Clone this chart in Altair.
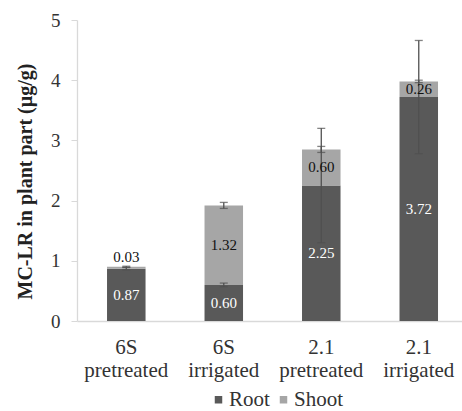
import altair as alt
import pandas as pd

categories = ["6S pretreated", "6S irrigated", "2.1 pretreated", "2.1 irrigated"]
root = [0.87, 0.60, 2.25, 3.72]
shoot = [0.03, 1.32, 0.60, 0.26]
root_err = [0.02, 0.03, 0.95, 0.94]
total_err = [0.01, 0.05, 0.05, 0.02]
parts = ["Root", "Shoot"]
colors = ["#595959", "#a6a6a6"]

rows = []
for c, r, s in zip(categories, root, shoot):
    rows.append({"category": c, "part": "Root", "value": r, "start": 0.0, "end": r, "ord": 0})
    rows.append({"category": c, "part": "Shoot", "value": s, "start": r, "end": r + s, "ord": 1})
bars_df = pd.DataFrame(rows)

err_rows = []
for c, r, s, re, te in zip(categories, root, shoot, root_err, total_err):
    err_rows.append({"category": c, "center": r, "err": re})
    err_rows.append({"category": c, "center": r + s, "err": te})
err_df = pd.DataFrame(err_rows)

FONT = "Liberation Serif"

xenc = alt.X(
    "category:N",
    sort=categories,
    scale=alt.Scale(paddingInner=0.605, paddingOuter=0.277, align=0.556),
    axis=alt.Axis(
        title=None,
        labelAngle=0,
        labelExpr="split(datum.label, ' ')",
        labelFont=FONT,
        labelFontSize=21,
        labelLineHeight=23,
        labelColor="#333333",
        labelPadding=15,
        labelBaseline="top",
        ticks=False,
        tickSize=0,
        domainColor="#d9d9d9",
        domainWidth=1.3,
    ),
)
xplain = alt.X("category:N", sort=categories)

yscale = alt.Scale(domain=[0, 5], nice=False)

bars = alt.Chart(bars_df).mark_bar().encode(
    x=xenc,
    y=alt.Y(
        "start:Q",
        scale=yscale,
        axis=alt.Axis(
            values=[0, 1, 2, 3, 4, 5],
            format="d",
            title="MC-LR in plant part (µg/g)",
            titleFont=FONT,
            titleFontSize=20,
            titleFontWeight="bold",
            titleColor="#222222",
            titleX=-52,
            titleY=161,
            titleBaseline="middle",
            titleAlign="center",
            labelFont=FONT,
            labelFontSize=19,
            labelColor="#333333",
            labelPadding=11,
            tickSize=6,
            tickColor="#d9d9d9",
            domainColor="#d9d9d9",
            domainWidth=1.3,
            grid=False,
        ),
    ),
    y2="end:Q",
    color=alt.Color(
        "part:N",
        scale=alt.Scale(domain=parts, range=colors),
        legend=alt.Legend(
            title=None,
            orient="none",
            direction="horizontal",
            legendX=131,
            legendY=369,
            padding=0,
            symbolType="square",
            symbolSize=56,
            symbolStrokeWidth=0,
            labelFont=FONT,
            labelFontSize=21,
            labelColor="#333333",
            labelOffset=0,
            columnPadding=3,
        ),
    ),
    order=alt.Order("ord:Q"),
)

err_base = alt.Chart(err_df).transform_calculate(
    low="datum.center - datum.err", high="datum.center + datum.err"
)
err_rule = err_base.mark_rule(color="#505050", strokeWidth=1.3).encode(
    x=xplain, y=alt.Y("low:Q", scale=yscale), y2="high:Q"
)
err_cap_hi = err_base.mark_tick(color="#505050", thickness=1.3, size=8).encode(
    x=xplain, y=alt.Y("high:Q", scale=yscale)
)
err_cap_lo = err_base.mark_tick(color="#505050", thickness=1.3, size=8).encode(
    x=xplain, y=alt.Y("low:Q", scale=yscale)
)

label_base = alt.Chart(bars_df).transform_calculate(
    pos="datum.value < 0.1 ? datum.end + 0.17 : (datum.start + datum.end) / 2"
)
root_labels = label_base.transform_filter("datum.part == 'Root'").mark_text(
    font=FONT, fontSize=15, color="white", baseline="middle"
).encode(x=xplain, y=alt.Y("pos:Q", scale=yscale), text=alt.Text("value:Q", format=".2f"))
shoot_labels = label_base.transform_filter("datum.part == 'Shoot'").mark_text(
    font=FONT, fontSize=15, color="#111111", baseline="middle"
).encode(x=xplain, y=alt.Y("pos:Q", scale=yscale), text=alt.Text("value:Q", format=".2f"))

chart = (
    alt.layer(bars, err_rule, err_cap_hi, err_cap_lo, root_labels, shoot_labels)
    .properties(
        width=385,
        height=301,
        autosize=alt.AutoSizeParams(type="none"),
        padding={"left": 77, "top": 20, "right": 0, "bottom": 90},
        background="white",
    )
    .configure_view(stroke=None)
    .configure_axis(labelFont=FONT, titleFont=FONT)
    .configure_legend(labelFont=FONT)
    .configure_text(font=FONT)
)

chart.save("out.html", embed_options={"renderer": "svg", "actions": False})
